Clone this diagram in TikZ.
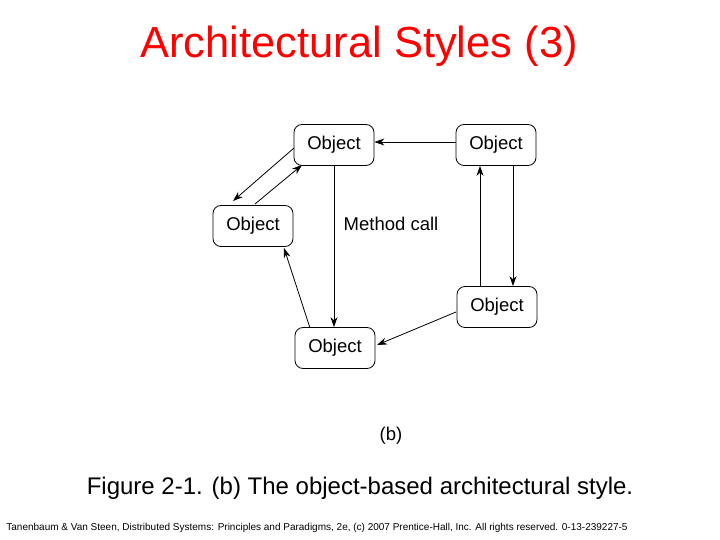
\documentclass[tikz,border=0pt]{standalone}
\usepackage{fontspec}
\setmainfont{Liberation Sans}
\usetikzlibrary{arrows.meta}
\begin{document}
\begin{tikzpicture}[x=1pt,y=-1pt,
  obj/.style={draw,rounded corners=8pt,minimum width=80pt,minimum height=41pt,font=\fontsize{18.5}{22}\selectfont,line width=0.8pt},
  arr/.style={-{Stealth[length=10pt,width=7pt]},line width=0.8pt}]
\useasboundingbox[fill=white] (0,0) rectangle (720,540);
\node[text=red,font=\fontsize{43.5}{50}\selectfont] (title) at (359,46) {Architectural Styles (3)};
\node (tl) [obj] at (334,145) {Object};
\node (tr) [obj] at (496,145) {Object};
\node (l) [obj] at (253,226) {Object};
\node (br) [obj] at (497,307) {Object};
\node (b) [obj] at (335,348) {Object};
\node[font=\fontsize{18.5}{22}\selectfont] (mc) at (391,224) {Method call};
\node[font=\fontsize{18.5}{22}\selectfont] (lab) at (391,436) {(b)};
\coordinate (a1) at (294,148); \coordinate (a2) at (233,201);
\coordinate (b1) at (255,204); \coordinate (b2) at (302,165);
\coordinate (c1) at (310,328); \coordinate (c2) at (284,248);
\coordinate (d1) at (456,312); \coordinate (d2) at (377,345);
\draw[arr] (tr.west |- 0,142) -- (tl.east |- 0,142);
\draw[arr] (tl.south) -- (b.north -| tl.south);
\draw[arr] (a1) -- (a2);
\draw[arr] (b1) -- (b2);
\draw[arr] (c1) -- (c2);
\draw[arr] (d1) -- (d2);
\draw[arr] (br.north -| 480,0) -- (tr.south -| 480,0);
\draw[arr] (tr.south -| 513,0) -- (br.north -| 513,0);
\node[font=\fontsize{24}{28}\selectfont] (cap) at (360,488) {Figure 2-1. (b) The object-based architectural style.};
\node[font=\fontsize{10}{12}\selectfont] (foot) at (317,528) {Tanenbaum \& Van Steen, Distributed Systems: Principles and Paradigms, 2e, (c) 2007 Prentice-Hall, Inc. All rights reserved. 0-13-239227-5};
\end{tikzpicture}
\end{document}
